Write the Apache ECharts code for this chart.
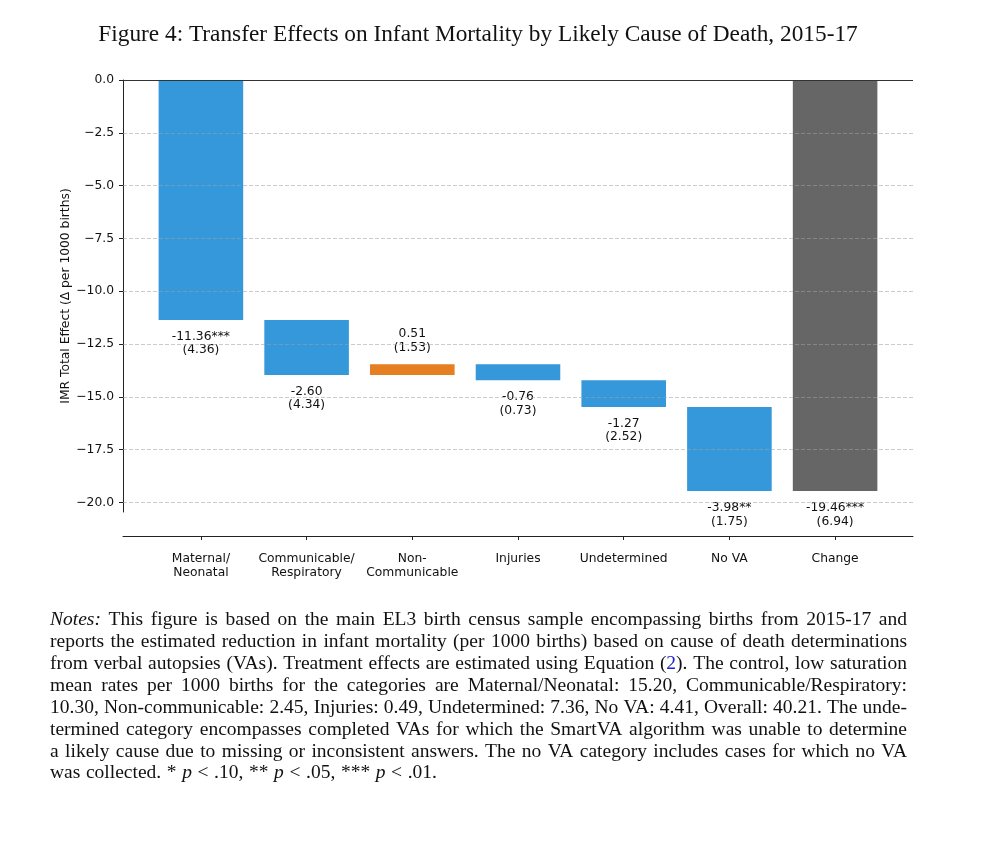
<!DOCTYPE html>
<html><head><meta charset="utf-8">
<script src="https://cdn.jsdelivr.net/npm/echarts@6/dist/echarts.min.js"></script>
<style>html,body{margin:0;padding:0;background:#fff}#chart{width:1000px;height:842px}</style>
</head><body><div id="chart"></div>
<script>
// ---- data ----
const categories = ['Maternal/\nNeonatal', 'Communicable/\nRespiratory', 'Non-\nCommunicable', 'Injuries', 'Undetermined', 'No VA', 'Change'];
const effects = [-11.36, -2.60, 0.51, -0.76, -1.27, -3.98];
const totalEffect = -19.46;
const stdErrors = [4.36, 4.34, 1.53, 0.73, 2.52, 1.75, 6.94];
const stars = ['***', '', '', '', '', '**', '***'];
const yTicks = [0, -2.5, -5, -7.5, -10, -12.5, -15, -17.5, -20];
const xTicks = [0, 1, 2, 3, 4, 5, 6];
const titleText = 'Figure 4: Transfer Effects on Infant Mortality by Likely Cause of Death, 2015-17';
const yName = 'IMR Total Effect (\u0394 per 1000 births)';
const noteLines = [
  '{i|Notes:} This figure is based on the main EL3 birth census sample encompassing births from 2015-17 and',
  'reports the estimated reduction in infant mortality (per 1000 births) based on cause of death determinations',
  'from verbal autopsies (VAs). Treatment effects are estimated using Equation ({b|2}). The control, low saturation',
  'mean rates per 1000 births for the categories are Maternal/Neonatal: 15.20, Communicable/Respiratory:',
  '10.30, Non-communicable: 2.45, Injuries: 0.49, Undetermined: 7.36, No VA: 4.41, Overall: 40.21. The unde-',
  'termined category encompasses completed VAs for which the SmartVA algorithm was unable to determine',
  'a likely cause due to missing or inconsistent answers. The no VA category includes cases for which no VA',
  'was collected. * {i|p} < .10, ** {i|p} < .05, *** {i|p} < .01.'
];

// ---- waterfall build ----
const COLORS = { neg: '#3498db', pos: '#e67e22', total: '#666666' };
const bars = [];
let cum = 0;
effects.forEach((e, i) => {
  bars.push([i, cum, cum + e, e]);
  cum += e;
});
bars.push([effects.length, 0, totalEffect, totalEffect]);

const SANS = '"DejaVu Sans", sans-serif';
const SERIF = '"Liberation Serif", serif';

function build() {
  const chart = echarts.init(document.getElementById('chart'), null, { renderer: 'canvas' });

  const ctx = document.createElement('canvas').getContext('2d');
  const NOTE_SIZE = 19.5;
  function fontOf(st, size) { return (st === 'i' ? 'italic ' : '') + size + 'px "Liberation Serif"'; }
  function measure(t, st, size) { ctx.font = fontOf(st, size); return ctx.measureText(t).width; }
  function parseWord(w) {
    const pieces = []; const re = /\{(\w)\|([^}]*)\}/g; let last = 0, m;
    while ((m = re.exec(w))) {
      if (m.index > last) pieces.push({ t: w.slice(last, m.index), st: 'n' });
      pieces.push({ t: m[2], st: m[1] });
      last = re.lastIndex;
    }
    if (last < w.length) pieces.push({ t: w.slice(last), st: 'n' });
    return pieces;
  }

  const graphics = [];
  const tSize0 = 21;
  const tW = measure(titleText, 'n', tSize0);
  const tSize = tSize0 * 760 / tW;
  graphics.push({ type: 'text', x: 478, y: 35, style: { text: titleText, fontSize: tSize, fontFamily: SERIF, fill: '#111', align: 'center', verticalAlign: 'middle' } });

  const left = 50, width = 857, y0 = 620, lh = 21.9;
  noteLines.forEach((line, li) => {
    const words = line.split(' ').map(parseWord);
    const widths = words.map(ps => ps.reduce((s, p) => s + measure(p.t, p.st, NOTE_SIZE), 0));
    const total = widths.reduce((a, b) => a + b, 0);
    const justify = li < noteLines.length - 1;
    const gap = justify ? (width - total) / (words.length - 1) : measure(' ', 'n', NOTE_SIZE) * 1.15;
    let x = left;
    const y = y0 + li * lh;
    words.forEach((ps, wi) => {
      let px = x;
      ps.forEach(p => {
        graphics.push({ type: 'text', x: px, y: y, style: {
          text: p.t, fontSize: NOTE_SIZE, fontFamily: SERIF, fontStyle: p.st === 'i' ? 'italic' : 'normal',
          fill: p.st === 'b' ? '#2020d0' : '#111', align: 'left', verticalAlign: 'middle' } });
        px += measure(p.t, p.st, NOTE_SIZE);
      });
      x += widths[wi] + gap;
    });
  });

  const fmtY = v => (v < 0 ? '\u2212' : '') + Math.abs(v).toFixed(1);

  const option = {
    animation: false,
    backgroundColor: '#fff',
    grid: { left: 123, right: 87, top: 80, bottom: 330, containLabel: false },
    xAxis: {
      type: 'value', min: -0.737, max: 6.737, offset: 24,
      splitLine: { show: false },
      axisLine: { show: true, onZero: false, lineStyle: { color: '#222', width: 1 } },
      axisTick: { show: true, customValues: xTicks, length: 4, lineStyle: { color: '#222' } },
      axisLabel: { show: true, customValues: xTicks, formatter: v => categories[Math.round(v)],
        fontFamily: SANS, fontSize: 12.3, color: '#111', margin: 16, lineHeight: 14 }
    },
    yAxis: {
      type: 'value', min: -20.45, max: 0,
      name: yName, nameLocation: 'middle', nameGap: 51, nameMoveOverlap: false,
      nameTextStyle: { fontFamily: SANS, fontSize: 12.3, color: '#111' },
      splitLine: { show: false },
      axisLine: { show: true, onZero: false, lineStyle: { color: '#222', width: 1 } },
      axisTick: { show: true, customValues: yTicks, length: 4, lineStyle: { color: '#222' } },
      axisLabel: { show: true, customValues: yTicks, formatter: fmtY,
        fontFamily: SANS, fontSize: 12.3, color: '#111', margin: 9 }
    },
    graphic: graphics,
    series: [
      {
        type: 'custom', z: 2,
        data: bars,
        renderItem: (params, api) => {
          const i = params.dataIndex;
          const xv = api.value(0), s = api.value(1), e = api.value(2), eff = api.value(3);
          const p1 = api.coord([xv, s]), p2 = api.coord([xv, e]);
          const w = api.size([0.8, 0])[0];
          const top = Math.min(p1[1], p2[1]), bot = Math.max(p1[1], p2[1]);
          const isTotal = i === bars.length - 1;
          const color = isTotal ? COLORS.total : (eff >= 0 ? COLORS.pos : COLORS.neg);
          const label = eff.toFixed(2) + stars[i] + '\n(' + stdErrors[i].toFixed(2) + ')';
          const below = eff < 0;
          return {
            type: 'group',
            children: [
              { type: 'rect', shape: { x: p1[0] - w / 2, y: top, width: w, height: bot - top }, style: { fill: color } },
              { type: 'text', x: p1[0], y: below ? bot + 10 : top - 10,
                style: { text: label, fontFamily: SANS, fontSize: 12.3, lineHeight: 13.5, fill: '#111',
                  align: 'center', verticalAlign: below ? 'top' : 'bottom' } }
            ]
          };
        }
      },
      {
        type: 'line', z: 5, data: [], silent: true,
        markLine: {
          silent: true, symbol: ['none', 'none'], animation: false,
          label: { show: false },
          data: yTicks.map(v => v === 0
            ? { yAxis: v, lineStyle: { color: '#333', width: 1, type: 'solid' } }
            : { yAxis: v, lineStyle: { color: 'rgba(160,160,160,0.55)', width: 1, type: [4, 2] } })
        }
      }
    ]
  };
  chart.setOption(option);
}
if (document.fonts && document.fonts.ready) { document.fonts.ready.then(build); } else { build(); }
</script>
</body></html>
